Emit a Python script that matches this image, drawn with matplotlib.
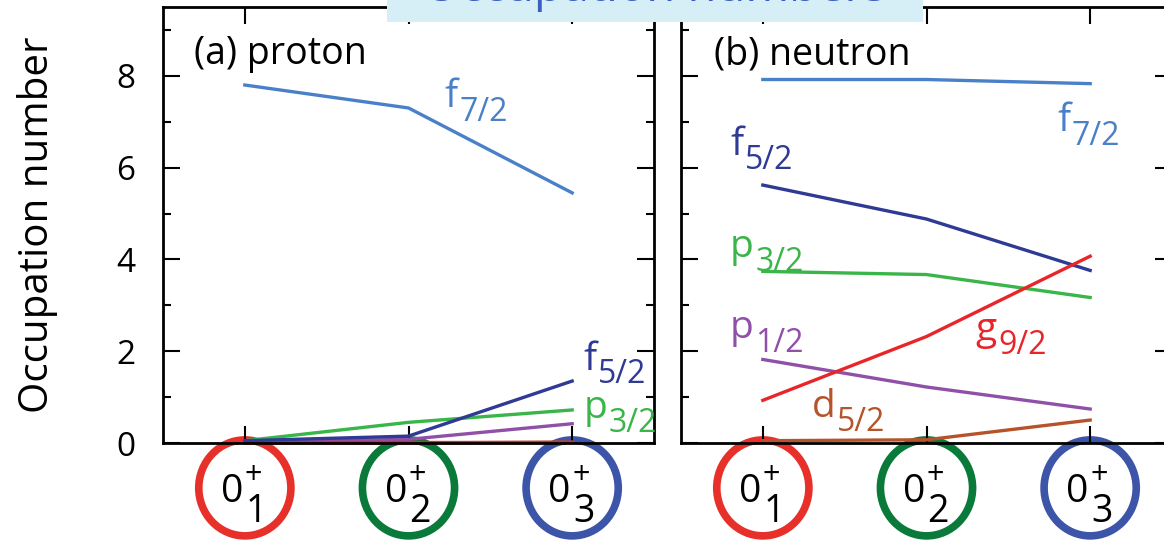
import matplotlib
matplotlib.use("Agg")
import matplotlib.pyplot as plt
from matplotlib.patches import Ellipse, Rectangle
import matplotlib.transforms as mtransforms

plt.rcParams['font.family'] = ['Open Sans', 'DejaVu Sans']

# ---------- data ----------
states = [1, 2, 3]
state_subs = ["1", "2", "3"]
state_colors = ["#e8302a", "#0a7a3a", "#3d55a8"]

orbit_colors = {
    "f7/2": "#4a80c8",
    "f5/2": "#2e3a94",
    "p3/2": "#3ab54a",
    "p1/2": "#9050a8",
    "g9/2": "#e8262a",
    "d5/2": "#b5532a",
}

proton = {
    "d5/2": [0.0, 0.0, 0.02],
    "p1/2": [0.02, 0.08, 0.42],
    "g9/2": [0.03, 0.03, 0.03],
    "p3/2": [0.05, 0.45, 0.72],
    "f5/2": [0.05, 0.15, 1.35],
    "f7/2": [7.8, 7.3, 5.45],
}
neutron = {
    "f7/2": [7.92, 7.92, 7.83],
    "f5/2": [5.62, 4.88, 3.76],
    "p3/2": [3.74, 3.67, 3.17],
    "p1/2": [1.82, 1.22, 0.74],
    "d5/2": [0.05, 0.07, 0.5],
    "g9/2": [0.93, 2.32, 4.07],
}

# label positions (data coords, left / baseline)
proton_labels = {"f7/2": (2.22, 7.32), "f5/2": (3.07, 1.6), "p3/2": (3.07, 0.55)}
neutron_labels = {"f7/2": (2.80, 6.8), "f5/2": (0.80, 6.27), "p3/2": (0.80, 4.06),
                  "p1/2": (0.80, 2.28), "g9/2": (2.30, 2.24), "d5/2": (1.30, 0.57)}

fig = plt.figure(figsize=(11.64, 5.42), dpi=100)
W, H = 1164, 542
ax1 = fig.add_axes([163 / W, 1 - 443 / H, 491 / W, 436 / H])
ax2 = fig.add_axes([681 / W, 1 - 443 / H, 491 / W, 436 / H])


def style(ax, ylabels=True):
    ax.set_xlim(0.5, 3.5)
    ax.set_ylim(0, 9.5)
    ax.set_xticks(states)
    ax.set_yticks([0, 2, 4, 6, 8])
    ax.set_yticks([1, 3, 5, 7, 9], minor=True)
    ax.tick_params(axis='both', which='both', direction='in', top=True, right=True,
                   width=1.5, labelsize=24, labelbottom=False)
    ax.tick_params(axis='both', which='major', length=12)
    ax.tick_params(axis='both', which='minor', length=6)
    ax.tick_params(axis='y', pad=20)
    if not ylabels:
        ax.tick_params(axis='y', labelleft=False)
    for s in ax.spines.values():
        s.set_linewidth(2)
    trans = mtransforms.blended_transform_factory(ax.transData, ax.transAxes)
    for x, c, s in zip(states, state_colors, state_subs):
        ax.add_patch(Ellipse((x, -0.103), 0.563, 0.22, transform=trans, fill=False,
                             edgecolor=c, linewidth=5.5, clip_on=False))
        ax.annotate("0", xy=(x, 0), xycoords=trans, xytext=(-9, -42.5),
                    textcoords='offset points', fontsize=28, ha='center',
                    va='baseline', annotation_clip=False)
        ax.annotate("+", xy=(x, 0), xycoords=trans, xytext=(0, -29.5),
                    textcoords='offset points', fontsize=22, ha='left',
                    va='baseline', annotation_clip=False)
        ax.annotate(s, xy=(x, 0), xycoords=trans, xytext=(0.5, -57),
                    textcoords='offset points', fontsize=27, ha='left',
                    va='baseline', annotation_clip=False)


def draw(ax, data, labels):
    for name, vals in data.items():
        ax.plot(states, vals, color=orbit_colors[name], linewidth=2.4,
                solid_joinstyle='miter', clip_on=False)
    for name, (x, y) in labels.items():
        c = orbit_colors[name]
        t = ax.text(x, y, name[0], color=c, fontsize=28, ha='left', va='baseline')
        ax.annotate(name[1:], xy=(1, y), xycoords=(t, 'data'), xytext=(1, -10),
                    textcoords='offset points', color=c, fontsize=23,
                    ha='left', va='baseline')


style(ax1)
style(ax2, ylabels=False)
draw(ax1, proton, proton_labels)
draw(ax2, neutron, neutron_labels)

ax1.text(0.69, 8.25, "(a) proton", fontsize=27, ha='left', va='baseline')
ax2.text(0.70, 8.25, "(b) neutron", fontsize=27, ha='left', va='baseline')
ax1.set_ylabel("Occupation number", fontsize=29, labelpad=42)

# cut-off title box at top
fig.patches.append(Rectangle((387 / W, 1 - 22 / H), (923 - 387) / W, 22 / H,
                             transform=fig.transFigure, facecolor="#d6eef5",
                             edgecolor='none', zorder=5))
fig.text(655 / W, 1 - 1 / H, "Occupation numbers", fontsize=34, color="#3a5fc0",
         ha='center', va='baseline', zorder=6)

fig.savefig("out.png", dpi=100)
